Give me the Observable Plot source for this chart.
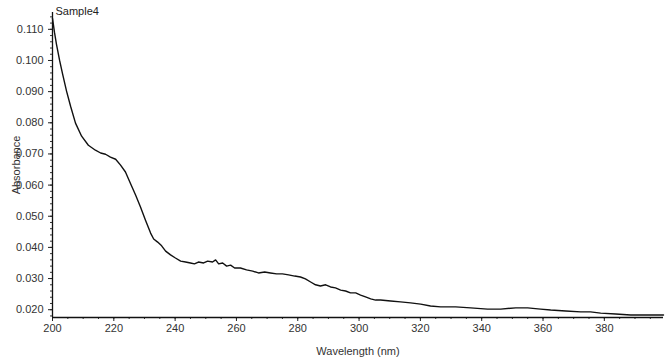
<!DOCTYPE html>
<html>
<head>
<meta charset="utf-8">
<script src="https://cdn.jsdelivr.net/npm/d3@7"></script>
<script src="https://cdn.jsdelivr.net/npm/@observablehq/plot@0.6"></script>
<style>
  html, body { margin: 0; padding: 0; background: #fff; }
  #chart svg { display: block; }
</style>
</head>
<body>
<div id="chart"></div>
<script>
const seriesName = "Sample4";
const wavelength = [
  200, 200.65, 201.3, 202.3, 203.3, 204.6, 205.9, 207.5, 209.5, 211.7,
  214.0, 215.7, 217.3, 218.9, 220.6, 222.2, 223.8, 225.4, 227.1, 228.7,
  230.3, 232.0, 233.0, 234.3, 235.6, 236.9, 238.5, 240.1, 241.8, 243.4,
  245.0, 246.3, 247.6, 249.3, 250.6, 252.2, 253.2, 254.2, 255.5, 256.8,
  258.1, 259.4, 261.3, 263.3, 265.3, 267.2, 269.2, 271.1, 273.1, 275.0,
  277.0, 279.0, 280.9, 282.5, 284.2, 285.8, 287.4, 289.1, 290.7, 292.3,
  294.0, 295.6, 297.2, 298.9, 300.5, 302.1, 303.8, 305.4, 307.0, 310.3,
  313.5, 316.8, 320.1, 323.3, 326.6, 331.5, 336.4, 341.9, 346.2, 351.1,
  355.0, 359.2, 362.5, 367.4, 372.3, 375.5, 378.8, 383.7, 388.6, 393.5, 399.3
];
const absorbance = [
  0.1135, 0.1090, 0.1052, 0.1001, 0.0956, 0.0901, 0.0853, 0.0799, 0.0757, 0.0728,
  0.0712, 0.0703, 0.0699, 0.0690, 0.0683, 0.0664, 0.0642, 0.0606, 0.0568, 0.0530,
  0.0488, 0.0446, 0.0427, 0.0417, 0.0405, 0.0388, 0.0376, 0.0366, 0.0356, 0.0353,
  0.0350, 0.0347, 0.0353, 0.0350, 0.0356, 0.0353, 0.0360, 0.0347, 0.0350, 0.0340,
  0.0343, 0.0334, 0.0334, 0.0328, 0.0324, 0.0318, 0.0321, 0.0318, 0.0315, 0.0315,
  0.0312, 0.0308, 0.0305, 0.0299, 0.0289, 0.0280, 0.0276, 0.0280, 0.0273, 0.0270,
  0.0263, 0.0260, 0.0254, 0.0254, 0.0247, 0.0241, 0.0235, 0.0231, 0.0231, 0.0228,
  0.0225, 0.0222, 0.0218, 0.0212, 0.0209, 0.0209, 0.0206, 0.0202, 0.0202, 0.0206,
  0.0206, 0.0202, 0.0199, 0.0196, 0.0193, 0.0193, 0.0189, 0.0186, 0.0183, 0.0183, 0.0183
];
const xTicks = [200, 220, 240, 260, 280, 300, 320, 340, 360, 380];
const yTicks = [0.020, 0.030, 0.040, 0.050, 0.060, 0.070, 0.080, 0.090, 0.100, 0.110];
const xMinor = d3.range(200, 400, 5);
const yMinor = d3.range(0.018, 0.1155, 0.002);
const xLabel = "Wavelength (nm)";
const yLabel = "Absorbance";

const data = wavelength.map((w, i) => ({w, a: absorbance[i]}));
const xDomain = [200, 399.3];
const yDomain = [0.0175, 0.1154];
const font = "'Liberation Sans', Arial, sans-serif";

const chart = Plot.plot({
  width: 665,
  height: 360,
  marginTop: 12,
  marginLeft: 52,
  marginRight: 2,
  marginBottom: 43,
  style: {fontFamily: font, color: "#333", background: "#fff"},
  x: {domain: xDomain},
  y: {domain: yDomain},
  marks: [
    Plot.axisX({ticks: xMinor, tickSize: 2, text: null, label: null, stroke: "#333"}),
    Plot.axisX({ticks: xTicks, tickSize: 4, tickPadding: 3, fontSize: 11, label: xLabel,
      labelAnchor: "center", labelArrow: "none", labelOffset: 37, stroke: "#222"}),
    Plot.axisY({ticks: yMinor, tickSize: 2, text: null, label: null, stroke: "#333"}),
    Plot.axisY({ticks: yTicks, tickSize: 4, tickPadding: 5, fontSize: 11, tickFormat: d3.format(".3f"),
      label: yLabel, labelAnchor: "center", labelArrow: "none", labelOffset: 40, stroke: "#222"}),
    Plot.ruleX([200], {stroke: "#111", strokeWidth: 1.3}),
    Plot.ruleY([yDomain[0]], {stroke: "#111", strokeWidth: 1.3}),
    Plot.line(data, {x: "w", y: "a", stroke: "#111", strokeWidth: 1.4}),
    Plot.text([seriesName], {frameAnchor: "top-left", dx: 3, dy: -5, textAnchor: "start",
      fontSize: 11, fill: "#222"})
  ]
});
document.getElementById("chart").appendChild(chart);
</script>
</body>
</html>
